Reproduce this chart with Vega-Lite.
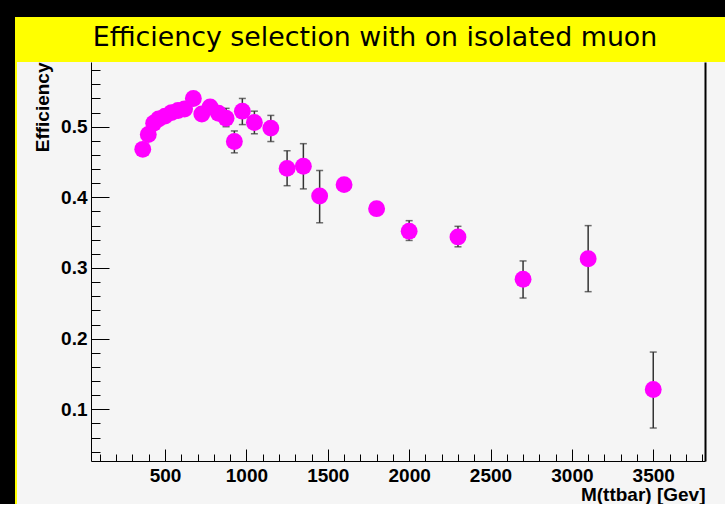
{
  "$schema": "https://vega.github.io/schema/vega-lite/v6.json",
  "padding": 0,
  "background": "#f5f5f5",
  "config": {
    "view": {"stroke": null},
    "axis": {
      "labelFont": "Liberation Sans", "labelFontWeight": "bold", "labelFontSize": 19, "labelColor": "#000000",
      "titleFont": "Liberation Sans", "titleFontWeight": "bold", "titleFontSize": 19, "titleColor": "#000000",
      "tickColor": "#000000", "tickWidth": 1, "domainColor": "#000000", "domainWidth": 1, "grid": false, "labelOverlap": false, "labelFlush": false
    }
  },
  "bounds": "flush",
  "spacing": 0,
  "vconcat": [
    {"width": 725, "height": 12, "view": {"fill": "#000000", "stroke": null}, "data": {"values": [{}]}, "mark": {"type": "rect", "opacity": 0}},
    {
      "bounds": "flush",
      "spacing": 0,
      "hconcat": [
        {"width": 15, "height": 492, "view": {"fill": "#000000", "stroke": null}, "data": {"values": [{}]}, "mark": {"type": "rect", "opacity": 0}},
        {"width": 2, "height": 492, "view": {"fill": "#ffff00", "stroke": null}, "data": {"values": [{}]}, "mark": {"type": "rect", "opacity": 0}},
        {
          "bounds": "flush",
          "spacing": 0,
          "vconcat": [
            {
              "width": 708, "height": 50,
              "view": {"fill": "#ffff00", "stroke": null},
              "data": {"values": [{}]},
              "mark": {"type": "text", "text": "Efficiency selection with on isolated muon", "font": "DejaVu Sans", "fontSize": 26.8, "color": "#000000", "baseline": "alphabetic", "align": "center", "dx": 4, "dy": 9}
            },
            {
              "bounds": "flush",
              "spacing": 0,
              "hconcat": [
                {"width": 74, "height": 442, "data": {"values": [{}]}, "mark": {"type": "rect", "opacity": 0}},
                {
                  "width": 614,
                  "height": 399,
                  "data": {"values": [
                    {"m": 363, "eff": 0.468, "lo": 0.462, "hi": 0.474},
                    {"m": 397, "eff": 0.489, "lo": 0.483, "hi": 0.495},
                    {"m": 430, "eff": 0.505, "lo": 0.499, "hi": 0.511},
                    {"m": 460, "eff": 0.511, "lo": 0.505, "hi": 0.517},
                    {"m": 500, "eff": 0.515, "lo": 0.509, "hi": 0.521},
                    {"m": 540, "eff": 0.520, "lo": 0.514, "hi": 0.526},
                    {"m": 580, "eff": 0.523, "lo": 0.517, "hi": 0.529},
                    {"m": 620, "eff": 0.525, "lo": 0.519, "hi": 0.531},
                    {"m": 674, "eff": 0.540, "lo": 0.533, "hi": 0.547},
                    {"m": 726, "eff": 0.518, "lo": 0.511, "hi": 0.525},
                    {"m": 777, "eff": 0.528, "lo": 0.520, "hi": 0.536},
                    {"m": 828, "eff": 0.519, "lo": 0.510, "hi": 0.528},
                    {"m": 875, "eff": 0.512, "lo": 0.500, "hi": 0.526},
                    {"m": 926, "eff": 0.479, "lo": 0.463, "hi": 0.494},
                    {"m": 975, "eff": 0.522, "lo": 0.503, "hi": 0.540},
                    {"m": 1049, "eff": 0.506, "lo": 0.490, "hi": 0.522},
                    {"m": 1150, "eff": 0.498, "lo": 0.479, "hi": 0.516},
                    {"m": 1250, "eff": 0.441, "lo": 0.4165, "hi": 0.466},
                    {"m": 1350, "eff": 0.444, "lo": 0.412, "hi": 0.476},
                    {"m": 1450, "eff": 0.402, "lo": 0.364, "hi": 0.438},
                    {"m": 1600, "eff": 0.418, "lo": 0.410, "hi": 0.426},
                    {"m": 1800, "eff": 0.384, "lo": 0.377, "hi": 0.391},
                    {"m": 2000, "eff": 0.352, "lo": 0.339, "hi": 0.367},
                    {"m": 2300, "eff": 0.344, "lo": 0.330, "hi": 0.359},
                    {"m": 2700, "eff": 0.284, "lo": 0.2575, "hi": 0.310},
                    {"m": 3100, "eff": 0.313, "lo": 0.2665, "hi": 0.360},
                    {"m": 3500, "eff": 0.128, "lo": 0.0735, "hi": 0.181}
                  ]},
                  "layer": [
                    {
                      "mark": {"type": "errorbar", "color": "#333333", "thickness": 1.5, "ticks": {"size": 7, "thickness": 1.5, "color": "#333333"}},
                      "encoding": {
                        "x": {"field": "m", "type": "quantitative",
                          "scale": {"domain": [45, 3818], "nice": false, "zero": false},
                          "axis": {"orient": "bottom", "values": [100, 200, 300, 400, 600, 700, 800, 900, 1100, 1200, 1300, 1400, 1600, 1700, 1800, 1900, 2100, 2200, 2300, 2400, 2600, 2700, 2800, 2900, 3100, 3200, 3300, 3400, 3600, 3700, 3800], "labels": false, "tickSize": -7, "domain": false, "title": null}},
                        "y": {"field": "lo", "type": "quantitative",
                          "scale": {"domain": [0.0268, 0.5916], "nice": false, "zero": false},
                          "axis": {"orient": "left", "values": [0.04, 0.06, 0.08, 0.12, 0.14, 0.16, 0.18, 0.22, 0.24, 0.26, 0.28, 0.32, 0.34, 0.36, 0.38, 0.42, 0.44, 0.46, 0.48, 0.52, 0.54, 0.56, 0.58], "labels": false, "tickSize": -9, "domain": false, "title": null}},
                        "y2": {"field": "hi"}
                      }
                    },
                    {
                      "mark": {"type": "circle", "size": 285, "color": "#ff00ff", "opacity": 1},
                      "encoding": {
                        "x": {"field": "m", "type": "quantitative",
                          "scale": {"domain": [45, 3818], "nice": false, "zero": false},
                          "axis": {"orient": "bottom", "values": [500, 1000, 1500, 2000, 2500, 3000, 3500], "format": "d", "tickSize": -12, "labelPadding": 17, "domain": true,
                            "title": "M(ttbar) [Gev]", "titleX": 614, "titleY": 24, "titleAlign": "right", "titleBaseline": "top", "titleAngle": 0}},
                        "y": {"field": "eff", "type": "quantitative",
                          "scale": {"domain": [0.0268, 0.5916], "nice": false, "zero": false},
                          "axis": {"orient": "left", "values": [0.1, 0.2, 0.3, 0.4, 0.5], "format": ".1f", "tickSize": -18, "labelPadding": 22, "domain": true,
                            "title": "Efficiency", "titleX": -39, "titleY": 0, "titleAngle": -90, "titleAlign": "right", "titleBaseline": "bottom"}}
                      }
                    },
                    {
                      "mark": {"type": "circle", "opacity": 0},
                      "encoding": {
                        "x": {"field": "m", "type": "quantitative", "axis": null},
                        "y": {"field": "eff", "type": "quantitative",
                          "axis": {"orient": "right", "ticks": false, "labels": false, "domain": true, "domainColor": "#000000", "domainWidth": 2, "title": null}}
                      }
                    }
                  ],
                  "resolve": {"axis": {"x": "independent", "y": "independent"}}
                }
              ]
            }
          ]
        }
      ]
    },
    {"width": 725, "height": 5, "view": {"fill": "#000000", "stroke": null}, "data": {"values": [{}]}, "mark": {"type": "rect", "opacity": 0}}
  ]
}
